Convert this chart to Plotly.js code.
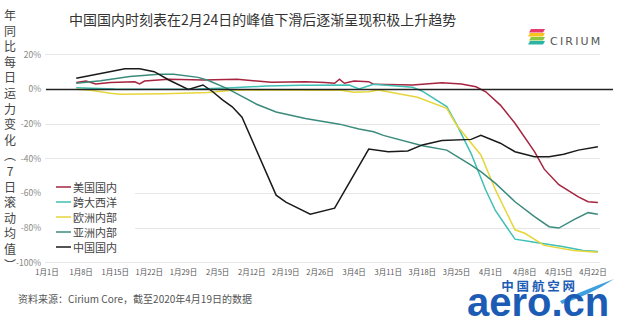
<!DOCTYPE html>
<html><head><meta charset="utf-8">
<script src="https://cdn.plot.ly/plotly-3.0.1.min.js"></script>
<style>html,body{margin:0;padding:0;background:#fff;}#chart{width:620px;height:325px;}</style>
</head><body><div id="chart"></div>
<script>
// ---------- data (7-day rolling YoY capacity change, %) ----------
const seriesNames = ['美国国内', '跨大西洋', '欧洲内部', '亚洲内部', '中国国内'];
const seriesColors = ['#a6243f', '#3fbfb5', '#e6d63a', '#3a8b7c', '#1a1a1a'];

const usDates = ['2020-01-07','2020-01-09','2020-01-11','2020-01-14','2020-01-19','2020-01-20','2020-01-21','2020-01-26','2020-02-02','2020-02-09','2020-02-16','2020-02-23','2020-02-27','2020-02-29','2020-03-01','2020-03-02','2020-03-04','2020-03-07','2020-03-08','2020-03-16','2020-03-22','2020-03-26','2020-03-29','2020-03-31','2020-04-03','2020-04-06','2020-04-10','2020-04-12','2020-04-15','2020-04-19','2020-04-21','2020-04-23'];
const usValues = [4.0,4.9,3.2,4.0,4.5,3.2,4.9,5.9,5.5,5.9,4.2,4.5,4.0,3.6,5.9,3.6,4.9,4.5,3.0,2.6,3.9,3.2,1.6,-1.3,-9,-19.5,-35.9,-46,-55,-62,-64.8,-65.3];

const transDates = ['2020-01-07','2020-01-15','2020-01-25','2020-02-01','2020-02-08','2020-02-15','2020-02-22','2020-03-01','2020-03-03','2020-03-05','2020-03-07','2020-03-08','2020-03-16','2020-03-18','2020-03-23','2020-03-25','2020-03-28','2020-03-31','2020-04-02','2020-04-06','2020-04-10','2020-04-16','2020-04-20','2020-04-23'];
const transValues = [1.0,0.3,0.2,0.3,1.0,2.0,2.4,2.6,2.6,0.3,2.2,3.0,1.3,-1.0,-9.9,-20,-37,-58,-70,-86.4,-88.2,-90.8,-93,-93.6];

const euDates = ['2020-01-07','2020-01-10','2020-01-14','2020-01-16','2020-01-25','2020-02-03','2020-02-08','2020-02-15','2020-02-25','2020-03-01','2020-03-04','2020-03-07','2020-03-09','2020-03-17','2020-03-23','2020-03-25','2020-03-30','2020-04-02','2020-04-06','2020-04-08','2020-04-12','2020-04-18','2020-04-23'];
const euValues = [0.1,-0.5,-2.2,-2.8,-2.4,-1.8,-0.5,-0.3,-0.5,-0.3,-1.6,-1.3,-0.3,-4.5,-10.9,-20.5,-37.8,-58,-81,-83,-90,-93,-94];

const asiaDates = ['2020-01-07','2020-01-12','2020-01-18','2020-01-24','2020-01-27','2020-02-01','2020-02-03','2020-02-07','2020-02-10','2020-02-13','2020-02-17','2020-02-23','2020-03-01','2020-03-05','2020-03-08','2020-03-10','2020-03-18','2020-03-23','2020-03-28','2020-03-30','2020-04-02','2020-04-06','2020-04-10','2020-04-13','2020-04-15','2020-04-18','2020-04-21','2020-04-23'];
const asiaValues = [3.6,5.0,7.5,8.8,8.8,7.0,5.3,0.5,-4,-8.5,-13,-16.8,-20,-22.8,-24.4,-26.5,-32.5,-35,-43.6,-47.4,-54.2,-64.8,-73.4,-79.2,-80,-75.3,-71.1,-72];

const chinaDates = ['2020-01-07','2020-01-17','2020-01-20','2020-01-23','2020-01-26','2020-01-30','2020-02-02','2020-02-04','2020-02-06','2020-02-08','2020-02-10','2020-02-17','2020-02-19','2020-02-24','2020-02-29','2020-03-07','2020-03-11','2020-03-15','2020-03-18','2020-03-22','2020-03-28','2020-03-30','2020-04-03','2020-04-06','2020-04-10','2020-04-13','2020-04-16','2020-04-19','2020-04-23'];
const chinaValues = [6.5,12,12,10.3,5.5,0,2.6,-1.3,-6,-10,-16,-61,-65,-72,-68.5,-34.4,-35.9,-35.5,-32,-29.5,-28.8,-26.5,-31,-35.9,-38.8,-38.8,-37.4,-35,-33];

const tickDates = ['2020-01-01','2020-01-08','2020-01-15','2020-01-22','2020-01-29','2020-02-05','2020-02-12','2020-02-19','2020-02-26','2020-03-04','2020-03-11','2020-03-18','2020-03-25','2020-04-01','2020-04-08','2020-04-15','2020-04-22'];
const tickLabels = ['1月1日','1月8日','1月15日','1月22日','1月29日','2月5日','2月12日','2月19日','2月26日','3月4日','3月11日','3月18日','3月25日','4月1日','4月8日','4月15日','4月22日'];
const yTickValues = [20, 0, -20, -40, -60, -80, -100];
const yTickLabels = ['20%', '0%', '-20%', '-40%', '-60%', '-80%', '-100%'];

const titleText = '中国国内时刻表在2月24日的峰值下滑后逐渐呈现积极上升趋势';
const yTitleText = '年同比每日运力变化︵7日滚动均值︶';
const sourceText = '资料来源：Cirium Core，截至2020年4月19日的数据';
const logoCn = '中 国 航 空 网';
const logoEn = 'aero.cn';

// ---------- layout helpers (pixel -> paper) ----------
const W = 620, H = 325, ML = 45, MR = 20, MT = 45, MB = 61;
const PW = W - ML - MR, PH = H - MT - MB;
const px = x => (x - ML) / PW;
const py = y => (H - MB - y) / PH;

const FONT = '"Noto Sans CJK SC", "Noto Sans", sans-serif';

const allDates = [usDates, transDates, euDates, asiaDates, chinaDates];
const allValues = [usValues, transValues, euValues, asiaValues, chinaValues];

const traces = seriesNames.map((name, i) => ({
  type: 'scatter', mode: 'lines', name: name,
  x: allDates[i], y: allValues[i],
  line: {color: seriesColors[i], width: 1.5},
  hoverinfo: 'skip', showlegend: false
}));

const shapes = [];
const annotations = [];

// zero line (extends past plot)
shapes.push({type: 'line', xref: 'paper', yref: 'y', x0: px(46), x1: px(613), y0: 0, y1: 0,
  line: {color: '#222', width: 1.5}, layer: 'above'});

// legend background + samples + labels
shapes.push({type: 'rect', xref: 'paper', yref: 'paper', x0: px(45), x1: px(135), y0: py(255), y1: py(179),
  fillcolor: '#ffffff', line: {width: 0}, layer: 'above'});
const LEG_FS = 11, LEG_STEP = 15, LEG_CY = 217;
seriesNames.forEach((name, i) => {
  const yy = LEG_CY + (i - 2) * LEG_STEP;
  shapes.push({type: 'line', xref: 'paper', yref: 'paper', x0: px(56), x1: px(71), y0: py(yy), y1: py(yy),
    line: {color: seriesColors[i], width: 1.5}, layer: 'above'});
  annotations.push({xref: 'paper', yref: 'paper', x: px(72), y: py(yy), xanchor: 'left', yanchor: 'middle',
    text: name, showarrow: false, borderpad: 0,
    font: {family: FONT, size: LEG_FS, color: '#444'}});
});

// title
annotations.push({xref: 'paper', yref: 'paper', x: px(67), y: py(19), xanchor: 'left', yanchor: 'middle',
  text: titleText, showarrow: false, font: {family: FONT, size: 14, color: '#333'}});

// vertical y title (stacked characters)
annotations.push({xref: 'paper', yref: 'paper', x: px(10), y: py(139), xanchor: 'center', yanchor: 'middle',
  text: Array.from(yTitleText).join('<br>'), showarrow: false, borderpad: 0,
  font: {family: FONT, size: 12, color: '#444'}});

// source
annotations.push({xref: 'paper', yref: 'paper', x: px(16), y: py(298), xanchor: 'left', yanchor: 'middle',
  text: sourceText, showarrow: false, font: {family: FONT, size: 10, color: '#555'}});

// Cirium logo
const ciriumColors = ['#e83a6d', '#f5c31c', '#8dc641', '#2bb3a6'];
ciriumColors.forEach((c, i) => {
  const y0 = 29 + i * 4;
  shapes.push({type: 'path', xref: 'paper', yref: 'paper',
    path: `M ${px(531 - (i%2))},${py(y0)} L ${px(545)},${py(y0)} L ${px(543)},${py(y0+3.5)} L ${px(529 - (i%2))},${py(y0+3.5)} Z`,
    fillcolor: c, line: {width: 0}, layer: 'above'});
});
annotations.push({xref: 'paper', yref: 'paper', x: px(548), y: py(42), xanchor: 'left', yanchor: 'middle',
  text: 'C\u2009I\u2009R\u2009I\u2009U\u2009M', showarrow: false, font: {family: 'DejaVu Sans, sans-serif', size: 11, color: '#555'}});

// aero.cn logo (one text block)
annotations.push({xref: 'paper', yref: 'paper', x: px(538), y: py(325), xanchor: 'center', yanchor: 'bottom',
  align: 'center', showarrow: false, borderpad: 0,
  text: `<span style="font-size:12.5px;font-family:'Noto Sans CJK SC'"><b>${logoCn}</b></span><br><span style="font-size:40px"><b>${logoEn}</b></span>`,
  font: {family: 'Liberation Sans, Arial, sans-serif', size: 19, color: '#1d5cb4'}});
shapes.push({type: 'path', xref: 'paper', yref: 'paper',
  path: `M ${px(560)},${py(301)} Q ${px(585)},${py(290)} ${px(614)},${py(279)} Q ${px(590)},${py(295)} ${px(562)},${py(304)} Z`,
  fillcolor: '#3fa0e0', line: {width: 0}, layer: 'above'});

const layout = {
  width: W, height: H,
  margin: {l: ML, r: MR, t: MT, b: MB, pad: 0},
  paper_bgcolor: '#ffffff', plot_bgcolor: '#ffffff',
  showlegend: false,
  font: {family: FONT, color: '#555'},
  xaxis: {
    type: 'date', range: ['2019-12-31 14:10', '2020-04-23 10:30'],
    tickmode: 'array', tickvals: tickDates, ticktext: tickLabels,
    showgrid: false, zeroline: false, showline: false, ticks: '',
    ticklabelstandoff: 2,
    tickfont: {family: FONT, size: 7.5, color: '#555'}, fixedrange: true
  },
  yaxis: {
    range: [-100.75, 25.69],
    tickmode: 'array', tickvals: yTickValues, ticktext: yTickLabels,
    showgrid: true, gridcolor: '#e6e6e6', gridwidth: 1,
    zeroline: false, showline: false, ticks: '',
    ticklabelstandoff: 3,
    tickfont: {family: FONT, size: 8.5, color: '#888'}, fixedrange: true
  },
  shapes: shapes,
  annotations: annotations
};

Plotly.newPlot('chart', traces, layout, {displayModeBar: false, staticPlot: true});
</script>
</body></html>
